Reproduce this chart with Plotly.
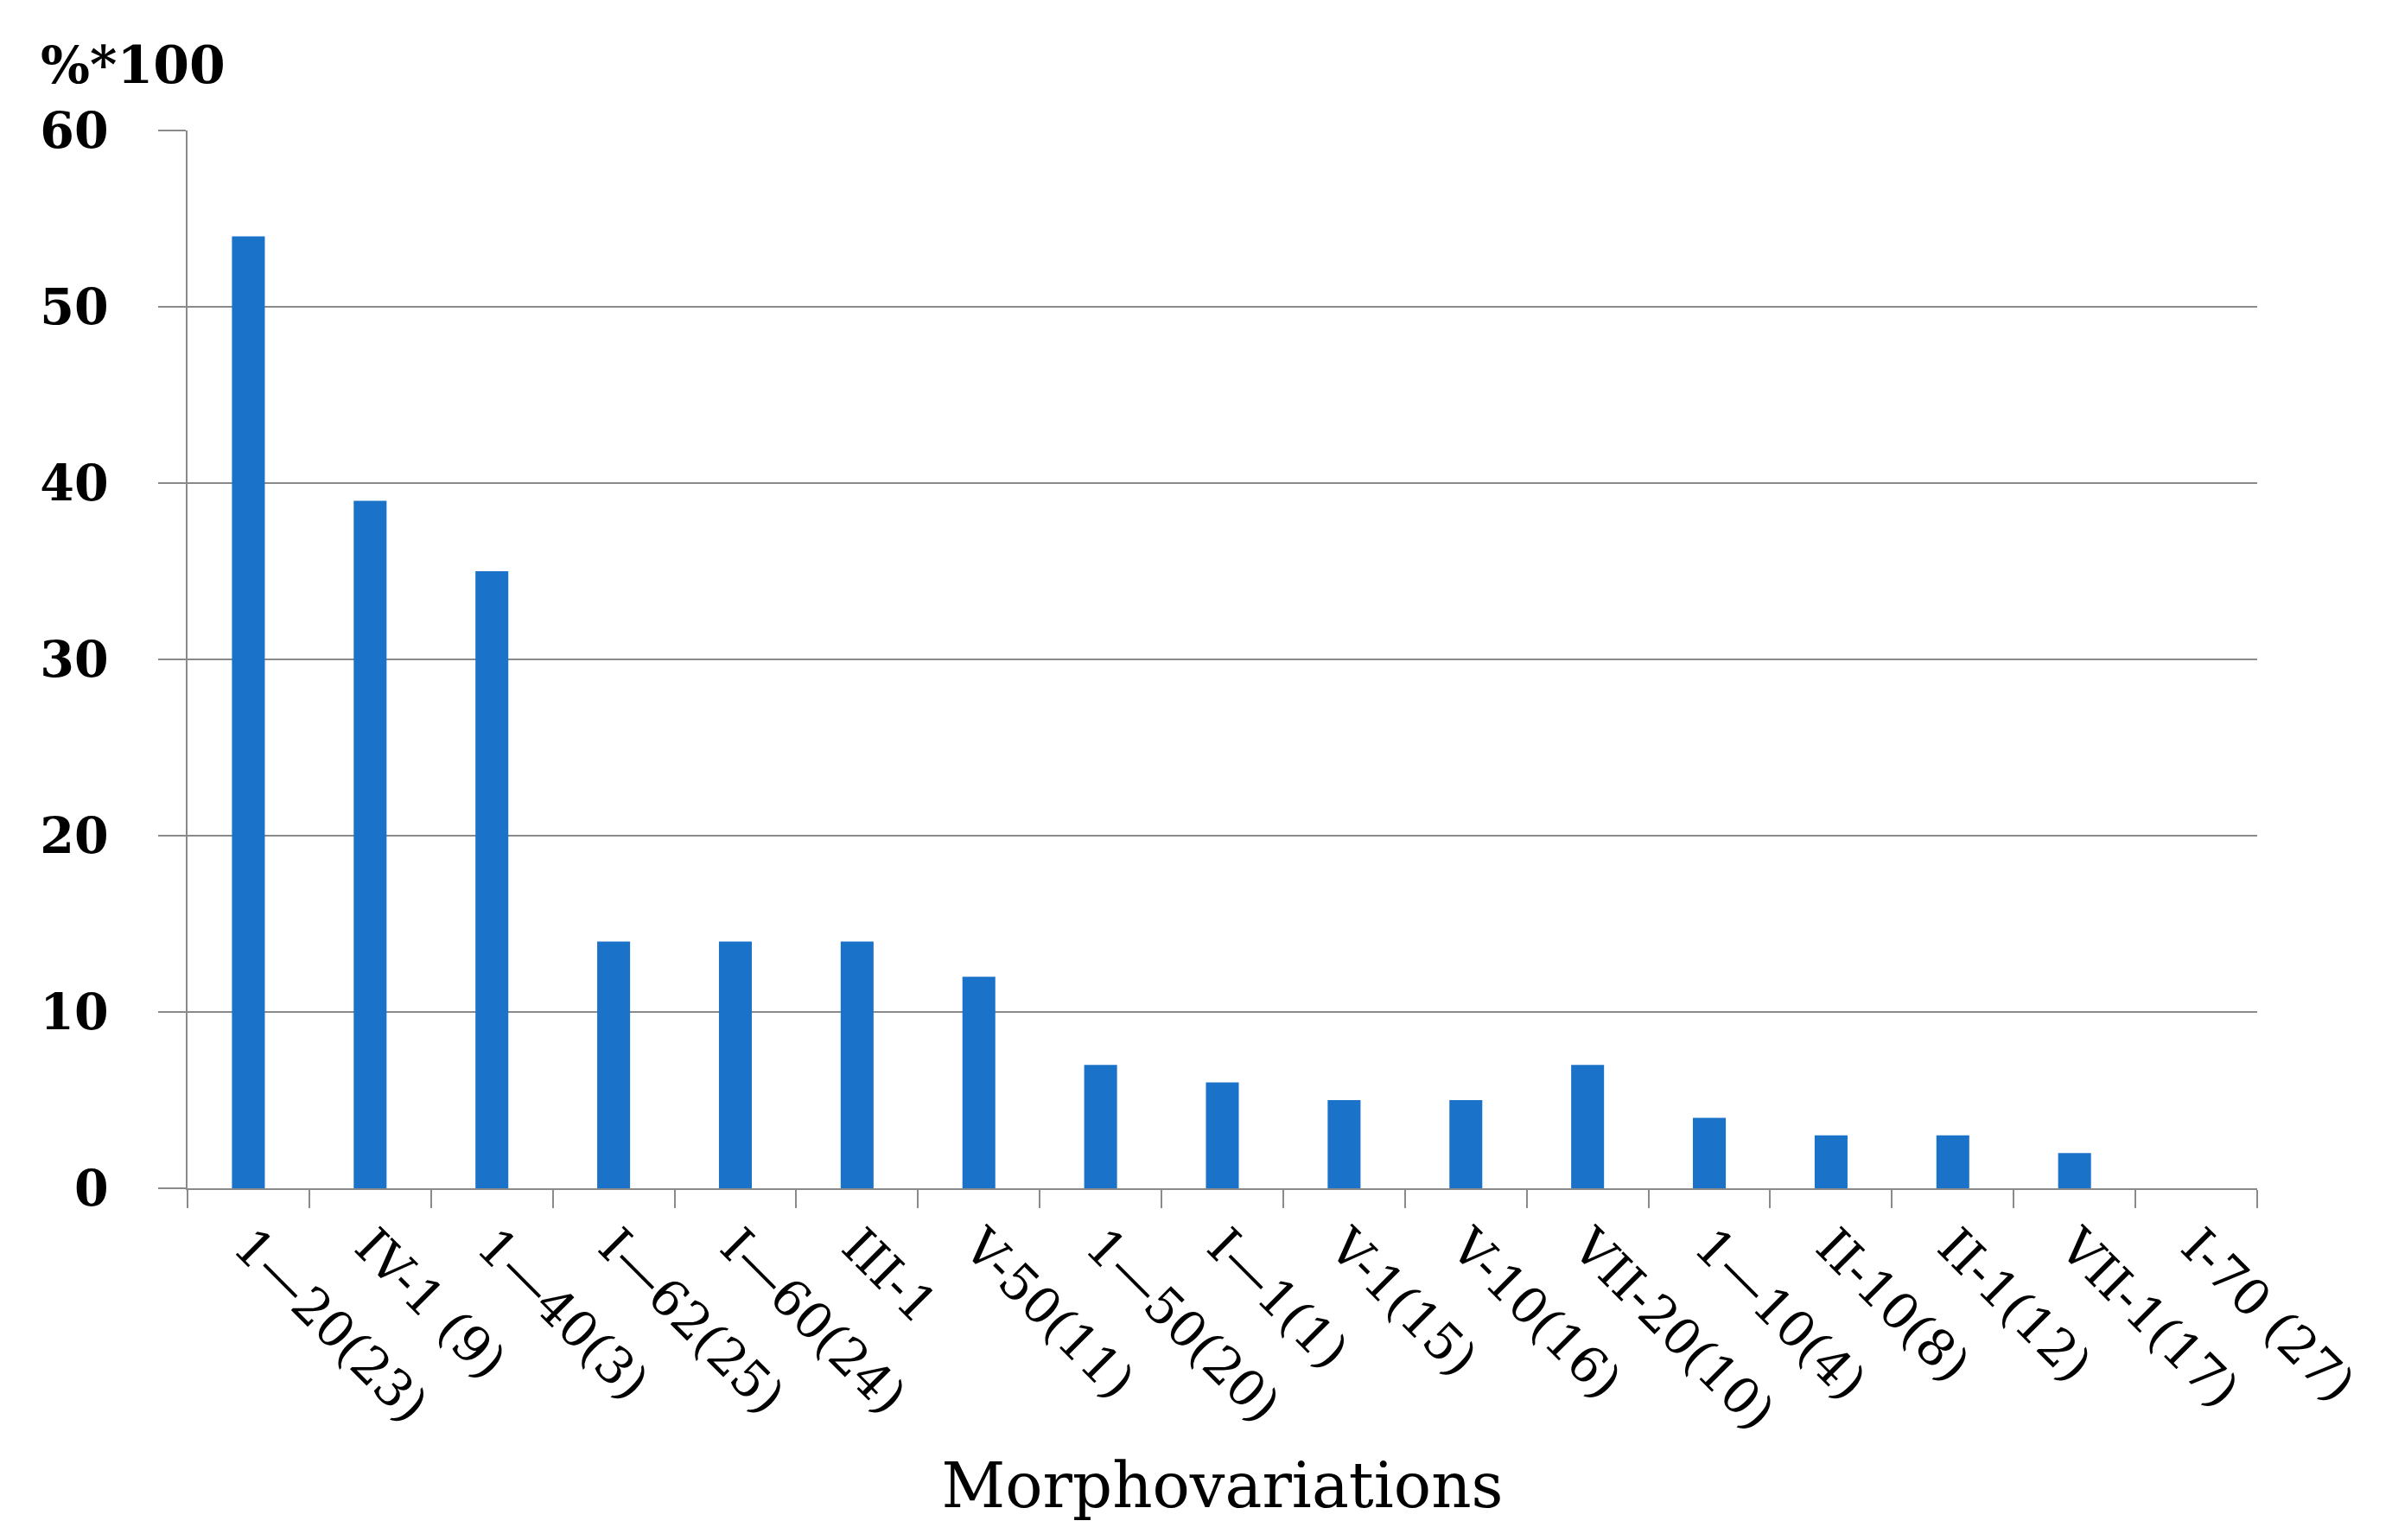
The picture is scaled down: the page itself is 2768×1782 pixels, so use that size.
import plotly.graph_objects as go

# morphovariation labels and their share (%*100)
categories = ['1—20(23)', 'IV-1 (9)', '1—40(3)', 'I—62(25)', 'I—60(24)', 'III-1',
              'V-50(11)', '1—50(20)', 'I—1(1)', 'V-1(15)', 'V-10(16)', 'VII-20(10)',
              '1—10(4)', 'II-10(8)', 'II-1(12)', 'VII-1(17)', 'I-70 (27)']
values = [54, 39, 35, 14, 14, 14, 12, 7, 6, 5, 5, 7, 4, 3, 3, 2, 0]
y_ticks = [0, 10, 20, 30, 40, 50, 60]

serif = 'DejaVu Serif'
grey = '#8a8a8a'

fig = go.Figure()
fig.add_trace(go.Bar(
    x=categories,
    y=values,
    marker=dict(color='#1B72C9', line=dict(width=0)),
))

fig.update_layout(
    width=2768, height=1782,
    paper_bgcolor='white', plot_bgcolor='white',
    margin=dict(l=209, r=164, t=143, b=415),
    bargap=0.73,
    showlegend=False,
    font=dict(family=serif, color='black'),
    xaxis=dict(
        type='category',
        automargin=False,
        tickangle=45,
        tickson='boundaries',
        ticks='outside', ticklen=21, tickwidth=2, tickcolor=grey,
        ticklabelstandoff=8,
        showline=True, linecolor=grey, linewidth=2,
        showgrid=False,
        tickfont=dict(family=serif, size=58, color='black'),
        title=dict(text='Morphovariations', standoff=26,
                   font=dict(family=serif, size=72, color='black')),
    ),
    yaxis=dict(
        range=[0, 60],
        automargin=False,
        tickvals=y_ticks,
        ticks='outside', ticklen=32, tickwidth=2, tickcolor=grey,
        ticklabelstandoff=46,
        showline=True, linecolor=grey, linewidth=2,
        showgrid=True, gridcolor=grey, gridwidth=2,
        zeroline=False,
        tickfont=dict(family=serif, size=57, color='black', weight='bold'),
    ),
    annotations=[dict(
        text='%*100', xref='paper', yref='paper',
        x=-0.072, y=1.062, xanchor='left', yanchor='middle',
        showarrow=False,
        font=dict(family=serif, size=60, color='black', weight='bold'),
    )],
)

fig.write_html("out.html")
